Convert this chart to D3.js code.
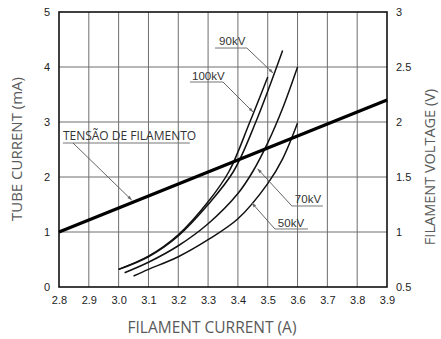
<!DOCTYPE html>
<html><head><meta charset="utf-8">
<script src="https://cdn.jsdelivr.net/npm/d3@7"></script>
<style>body{margin:0;background:#fff}svg{display:block}</style>
</head><body>
<svg id="c" width="441" height="339"></svg>
<script>
// ---- data ----
const xTicks = [2.8,2.9,3.0,3.1,3.2,3.3,3.4,3.5,3.6,3.7,3.8,3.9];
const yTicks = [0,1,2,3,4,5];
const vTicks = [0.5,1,1.5,2,2.5,3];
const curve100kV = [[3.0,0.32],[3.1,0.56],[3.2,0.95],[3.3,1.55],[3.37,2.1],[3.44,3.0],[3.5,3.82]];
const curve90kV  = [[3.0,0.32],[3.1,0.55],[3.2,0.93],[3.3,1.5],[3.385,2.1],[3.46,3.0],[3.55,4.3]];
const curve70kV  = [[3.02,0.26],[3.1,0.45],[3.2,0.75],[3.3,1.15],[3.4,1.7],[3.45,2.1],[3.5,2.62],[3.55,3.25],[3.6,4.0]];
const curve50kV  = [[3.05,0.2],[3.1,0.32],[3.2,0.55],[3.3,0.86],[3.4,1.24],[3.5,1.88],[3.55,2.33],[3.6,2.98]];
const filamentVoltage = [[2.8,1.0],[3.9,2.2]];
const annotations = [
  {label:"90kV", tx:3.337, ty:4.40, u0:3.323, u1:3.430, uy:4.345, from:"right", tipX:3.518, tipY:3.89, font:"arial"},
  {label:"100kV", tx:3.246, ty:3.76, u0:3.239, u1:3.350, uy:3.727, from:"right", tipX:3.451, tipY:3.18, font:"arial"},
  {label:"70kV", tx:3.591, ty:1.527, u0:3.581, u1:3.685, uy:1.473, from:"left", tipX:3.466, tipY:2.15, font:"arial"},
  {label:"50kV", tx:3.534, ty:1.09, u0:3.524, u1:3.635, uy:1.055, from:"left", tipX:3.447, tipY:1.527, font:"arial"},
  {label:"TENSÃO DE FILAMENTO", tx:2.813, ty:2.67, u0:2.813, u1:3.239, uy:2.618, from:"x", fromX:2.847, tipX:3.044, tipY:1.58, font:"open"}
];

// ---- chart ----
const svg = d3.select("#c");
const L=59, R=387, T=12, B=287;
const x = d3.scaleLinear().domain([2.8,3.9]).range([L,R]);
const y = d3.scaleLinear().domain([0,5]).range([B,T]);
const yv = d3.scaleLinear().domain([0.5,3]).range([B,T]);

const defs = svg.append("defs");
defs.append("marker").attr("id","arr").attr("viewBox","0 0 10 10").attr("refX",10).attr("refY",5)
  .attr("markerWidth",7).attr("markerHeight",5).attr("orient","auto")
  .append("path").attr("d","M0,1.5L10,5L0,8.5Z").attr("fill","#666");

// grid
svg.append("g").selectAll("line").data(xTicks.slice(1,-1)).join("line")
  .attr("x1",d=>x(d)).attr("x2",d=>x(d)).attr("y1",T).attr("y2",B)
  .attr("stroke","#6e6e6e").attr("stroke-width",1);
svg.append("g").selectAll("line").data(yTicks.slice(1,-1)).join("line")
  .attr("x1",L).attr("x2",R).attr("y1",d=>y(d)).attr("y2",d=>y(d))
  .attr("stroke","#6e6e6e").attr("stroke-width",1);

// axes (labels only)
const ax = svg.append("g").attr("transform",`translate(0,${B})`)
  .call(d3.axisBottom(x).tickValues(xTicks).tickFormat(d3.format(".1f")).tickSize(0).tickPadding(9));
const ay = svg.append("g").attr("transform",`translate(${L},0)`)
  .call(d3.axisLeft(y).tickValues(yTicks).tickFormat(d3.format("d")).tickSize(0).tickPadding(9));
const av = svg.append("g").attr("transform",`translate(${R},0)`)
  .call(d3.axisRight(yv).tickValues(vTicks).tickFormat(d=>String(d)).tickSize(0).tickPadding(9));
[ax,ay,av].forEach(g=>{
  g.select(".domain").remove();
  g.selectAll("text").attr("font-family","Liberation Sans, Arial, sans-serif").attr("font-size",11).attr("fill","#222");
});

// frame
svg.append("rect").attr("x",L).attr("y",T).attr("width",R-L).attr("height",B-T)
  .attr("fill","none").attr("stroke","#111").attr("stroke-width",1.6);

// curves
const line = d3.line().x(d=>x(d[0])).y(d=>y(d[1])).curve(d3.curveCatmullRom.alpha(0.5));
[curve100kV,curve90kV,curve70kV,curve50kV].forEach(c=>{
  svg.append("path").attr("d",line(c)).attr("fill","none").attr("stroke","#111").attr("stroke-width",1.5);
});
const vline = d3.line().x(d=>x(d[0])).y(d=>yv(d[1]));
svg.append("path").attr("d",vline(filamentVoltage)).attr("fill","none").attr("stroke","#000").attr("stroke-width",3.2);

// annotations
annotations.forEach(a=>{
  const g = svg.append("g");
  g.append("line").attr("x1",x(a.u0)).attr("x2",x(a.u1)).attr("y1",y(a.uy)).attr("y2",y(a.uy))
    .attr("stroke","#777").attr("stroke-width",1);
  const sx = a.from==="right"?x(a.u1):a.from==="left"?x(a.u0):x(a.fromX);
  g.append("line").attr("x1",sx).attr("y1",y(a.uy)).attr("x2",x(a.tipX)).attr("y2",y(a.tipY))
    .attr("stroke","#555").attr("stroke-width",0.9).attr("marker-end","url(#arr)");
  g.append("text").attr("x",x(a.tx)).attr("y",y(a.ty)).text(a.label)
    .attr("font-family",a.font==="arial"?"Liberation Sans, Arial, sans-serif":"Open Sans, sans-serif")
    .attr("font-size",a.font==="arial"?11.5:12).attr("fill","#333");
});

// axis titles
const titleStyle = s => s.attr("text-anchor","middle").attr("font-family","Open Sans, sans-serif")
  .attr("font-size",15.5).attr("fill","#5a5a5a");
svg.append("text").attr("x",212).attr("y",333).call(titleStyle).text("FILAMENT CURRENT (A)");
svg.append("text").attr("transform","translate(22,149) rotate(-90)").call(titleStyle).attr("font-size",15).text("TUBE CURRENT (mA)");
svg.append("text").attr("transform","translate(435,167) rotate(-90)").call(titleStyle).attr("font-size",14.5).text("FILAMENT VOLTAGE (V)");
</script>
</body></html>
